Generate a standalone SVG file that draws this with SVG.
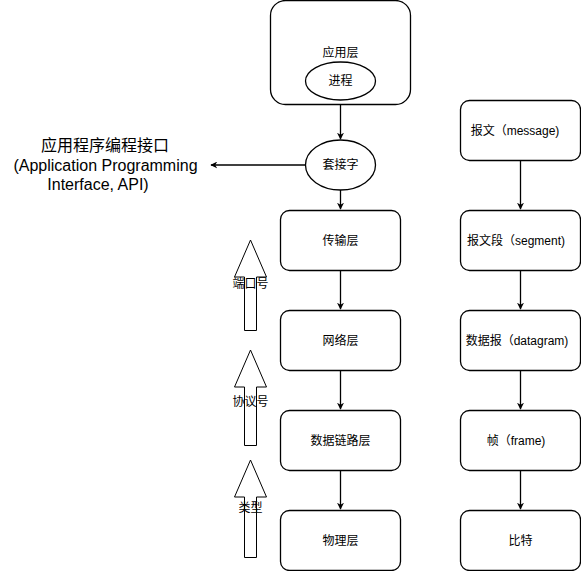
<svg xmlns="http://www.w3.org/2000/svg" width="581" height="571" viewBox="0 0 581 571">
<style>
.box{fill:#fff;stroke:#000;stroke-width:1.3}
.t{font-family:"Liberation Sans","Noto Sans CJK SC",sans-serif;font-size:12px;text-anchor:middle;dominant-baseline:central;fill:#000}
.big{font-family:"Liberation Sans","Noto Sans CJK SC",sans-serif;font-size:16px;text-anchor:middle;fill:#000}
.ln{stroke:#000;stroke-width:1.3;fill:none}
.blk{fill:#fff;stroke:#000;stroke-width:1}
</style>
<defs>
<marker id="ah" viewBox="0 0 10 10" refX="9" refY="5" markerWidth="7" markerHeight="7" markerUnits="userSpaceOnUse" orient="auto">
<path d="M0,0 L10,5 L0,10 L3,5 Z" fill="#000"/>
</marker>
</defs>
<g id="connectors">
<line class="ln" x1="340.5" y1="105" x2="340.5" y2="139" marker-end="url(#ah)"/>
<line class="ln" x1="340.5" y1="190" x2="340.5" y2="209" marker-end="url(#ah)"/>
<line class="ln" x1="305" y1="165" x2="211" y2="165" marker-end="url(#ah)"/>
<line class="ln" x1="340.5" y1="270" x2="340.5" y2="309" marker-end="url(#ah)"/>
<line class="ln" x1="340.5" y1="370" x2="340.5" y2="409" marker-end="url(#ah)"/>
<line class="ln" x1="340.5" y1="470" x2="340.5" y2="509" marker-end="url(#ah)"/>
<line class="ln" x1="520.5" y1="160" x2="520.5" y2="209" marker-end="url(#ah)"/>
<line class="ln" x1="520.5" y1="270" x2="520.5" y2="309" marker-end="url(#ah)"/>
<line class="ln" x1="520.5" y1="370" x2="520.5" y2="409" marker-end="url(#ah)"/>
<line class="ln" x1="520.5" y1="470" x2="520.5" y2="509" marker-end="url(#ah)"/>
</g>
<g id="app">
<rect class="box" x="270.5" y="0.5" width="140" height="104" rx="15"/>
<text class="t" x="340.5" y="53">应用层</text>
</g>
<g id="process">
<ellipse class="box" cx="340.5" cy="81" rx="35" ry="19"/>
<text class="t" x="340.5" y="81">进程</text>
</g>
<g id="socket">
<ellipse class="box" cx="340.5" cy="165" rx="35" ry="25"/>
<text class="t" x="340.5" y="165">套接字</text>
</g>
<g id="api">
<text class="big" x="105" y="151">应用程序编程接口</text>
<text class="big" x="105.5" y="171">(Application Programming</text>
<text class="big" x="98" y="190">Interface, API)</text>
</g>
<g id="transport">
<rect class="box" x="280.5" y="210.5" width="120" height="60" rx="9"/>
<text class="t" x="340.5" y="240.5">传输层</text>
</g>
<g id="network">
<rect class="box" x="280.5" y="310.5" width="120" height="60" rx="9"/>
<text class="t" x="340.5" y="340.5">网络层</text>
</g>
<g id="datalink">
<rect class="box" x="280.5" y="410.5" width="120" height="60" rx="9"/>
<text class="t" x="340.5" y="440.5">数据链路层</text>
</g>
<g id="physical">
<rect class="box" x="280.5" y="510.5" width="120" height="60" rx="9"/>
<text class="t" x="340.5" y="540.5">物理层</text>
</g>
<g id="message">
<rect class="box" x="460.5" y="100.5" width="120" height="60" rx="9"/>
<text class="t" x="515" y="130.5">报文（message)</text>
</g>
<g id="segment">
<rect class="box" x="460.5" y="210.5" width="120" height="60" rx="9"/>
<text class="t" x="516" y="240.5">报文段（segment)</text>
</g>
<g id="datagram">
<rect class="box" x="460.5" y="310.5" width="120" height="60" rx="9"/>
<text class="t" x="517" y="340.5">数据报（datagram)</text>
</g>
<g id="frame">
<rect class="box" x="460.5" y="410.5" width="120" height="60" rx="9"/>
<text class="t" x="516" y="440.5">帧（frame)</text>
</g>
<g id="bit">
<rect class="box" x="460.5" y="510.5" width="120" height="60" rx="9"/>
<text class="t" x="520.5" y="540.5">比特</text>
</g>
<g id="port">
<path class="blk" d="M244.5,330.5 L244.5,277 L234.5,277 L250.5,240 L266.5,277 L256.5,277 L256.5,330.5 Z"/>
<text class="t" x="250.5" y="284">端口号</text>
</g>
<g id="protocol">
<path class="blk" d="M244.5,445.5 L244.5,387 L234.5,387 L250.5,350 L266.5,387 L256.5,387 L256.5,445.5 Z"/>
<text class="t" x="250.5" y="402">协议号</text>
</g>
<g id="type">
<path class="blk" d="M244.5,557.5 L244.5,497 L234.5,497 L250.5,460 L266.5,497 L256.5,497 L256.5,557.5 Z"/>
<text class="t" x="250.5" y="508">类型</text>
</g>
</svg>
